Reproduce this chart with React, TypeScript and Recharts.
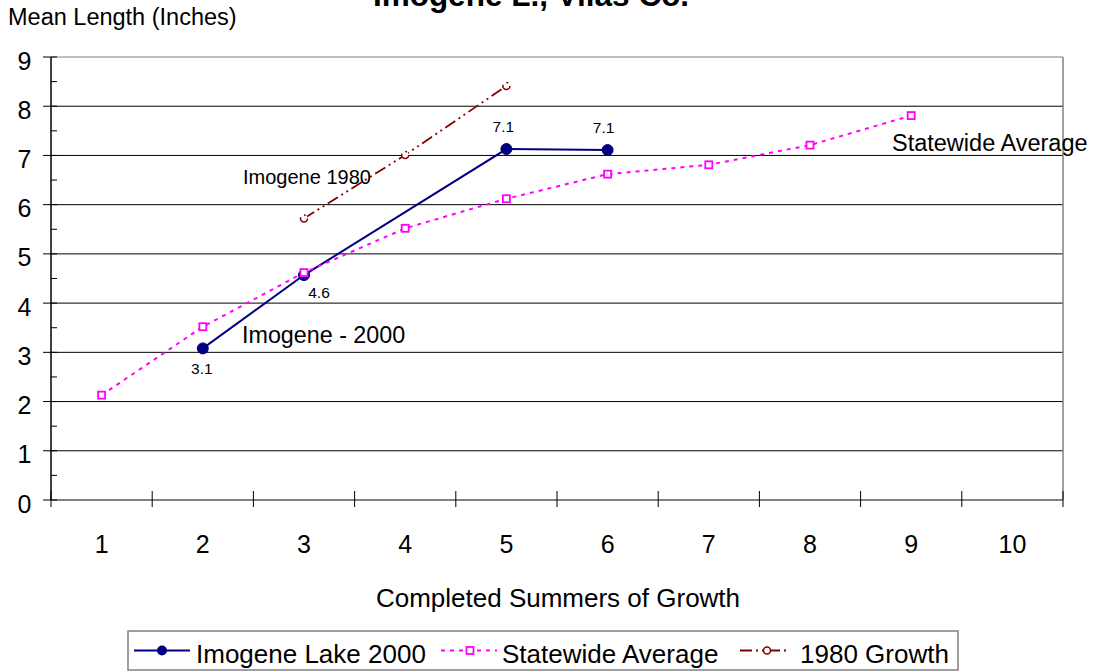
import React from 'react';
import { LineChart, Line, XAxis, YAxis, ReferenceLine, LabelList } from 'recharts';

// ---- data ----
const summers = [1, 2, 3, 4, 5, 6, 7, 8, 9, 10];
const imogene2000: (number | null)[] = [null, 3.08, 4.57, null, 7.13, 7.11, null, null, null, null];
const statewideAverage: (number | null)[] = [2.13, 3.52, 4.62, 5.52, 6.12, 6.62, 6.81, 7.21, 7.81, null];
const growth1980: (number | null)[] = [null, null, 5.72, 7.01, 8.41, null, null, null, null, null];
const yTickLabels = [0, 1, 2, 3, 4, 5, 6, 7, 8, 9];

const data = summers.map((s, i) => ({
  summer: s,
  imogene: imogene2000[i],
  statewide: statewideAverage[i],
  g1980: growth1980[i],
}));

const yMax = yTickLabels[yTickLabels.length - 1];
const xTicks = [summers[0] - 0.5, ...summers.flatMap((s) => [s, s + 0.5])];
const yTicks = yTickLabels.flatMap((v) => (v < yMax ? [v, v + 0.5] : [v]));

const FONT = 'Arial, "Liberation Sans", sans-serif';
const NAVY = '#000080';
const MAGENTA = '#FF00FF';
const MAROON = '#800000';

const XTick = (props: any) => {
  const { x, payload } = props;
  const v = payload.value;
  if (Number.isInteger(v)) {
    return (
      <text x={x} y={553} textAnchor="middle" fontSize={25} fontFamily={FONT} fill="#000">
        {v}
      </text>
    );
  }
  return <line x1={x} x2={x} y1={491} y2={507} stroke="#000" strokeWidth={1} />;
};

const YTick = (props: any) => {
  const { y, payload } = props;
  const v = payload.value;
  if (Number.isInteger(v)) {
    return (
      <g>
        <line x1={43} x2={57} y1={y} y2={y} stroke="#000" strokeWidth={1} />
        <text x={31.5} y={y + 12.5} textAnchor="end" fontSize={25} fontFamily={FONT} fill="#000">
          {v}
        </text>
      </g>
    );
  }
  return <line x1={51} x2={57} y1={y} y2={y} stroke="#000" strokeWidth={1} />;
};

const SquareDot = (props: any) => {
  const { cx, cy, index } = props;
  if (cx == null || cy == null || props.value == null) return <g key={`sq-${index}`} />;
  return (
    <rect key={`sq-${index}`} x={cx - 3.5} y={cy - 3.5} width={7} height={7} fill="#fff" stroke={MAGENTA} strokeWidth={1.8} />
  );
};

const labelShift: Record<number, [number, number]> = {
  1: [-1, 20],
  2: [15, 17.5],
  4: [-3, -22.5],
  5: [-4, -23],
};

const ImogeneLabel = (props: any) => {
  const { x, y, value, index } = props;
  if (value == null || x == null || y == null) return null;
  const [dx, dy] = labelShift[index] || [0, -22];
  return (
    <text x={x + dx} y={y + dy + 5.5} textAnchor="middle" fontSize={15.5} fontFamily={FONT} fill="#000">
      {Number(value).toFixed(1)}
    </text>
  );
};

export default function App() {
  return (
    <div style={{ position: 'absolute', left: 0, top: 0, width: 1094, height: 672, background: '#fff', overflow: 'hidden' }}>
      <LineChart width={1094} height={672} data={data} margin={{ top: 57, right: 31, bottom: 112, left: 6 }}>
        <XAxis
          dataKey="summer"
          type="number"
          domain={[summers[0] - 0.5, summers[summers.length - 1] + 0.5]}
          ticks={xTicks}
          interval={0}
          tick={<XTick />}
          tickLine={false}
          axisLine={{ stroke: '#808080', strokeWidth: 2 }}
          height={60}
        />
        <YAxis
          type="number"
          domain={[0, yMax]}
          ticks={yTicks}
          interval={0}
          tick={<YTick />}
          tickLine={false}
          axisLine={{ stroke: '#000', strokeWidth: 1.5 }}
          width={45}
        />
        {yTickLabels.slice(1).map((v) => (
          <ReferenceLine key={`g${v}`} y={v} stroke={v === yMax ? '#808080' : '#000'} strokeWidth={1} />
        ))}
        <ReferenceLine x={summers[summers.length - 1] + 0.5} stroke="#808080" strokeWidth={1.5} />
        <Line
          type="linear"
          dataKey="imogene"
          stroke={NAVY}
          strokeWidth={2}
          connectNulls
          dot={{ r: 5.5, fill: NAVY, stroke: NAVY, strokeWidth: 1 }}
          isAnimationActive={false}
        >
          <LabelList dataKey="imogene" content={<ImogeneLabel />} />
        </Line>
        <Line
          type="linear"
          dataKey="statewide"
          stroke={MAGENTA}
          strokeWidth={2}
          strokeDasharray="4 5"
          dot={<SquareDot />}
          isAnimationActive={false}
        />
        <Line
          type="linear"
          dataKey="g1980"
          stroke={MAROON}
          strokeWidth={1.8}
          strokeDasharray="12 4 2 4 2 4"
          dot={{ r: 3.5, fill: '#fff', stroke: MAROON, strokeWidth: 1.5 }}
          isAnimationActive={false}
        />
      </LineChart>
      <svg
        width={1094}
        height={672}
        style={{ position: 'absolute', left: 0, top: 0, pointerEvents: 'none' }}
        fontFamily={FONT}
      >
        <text x={531} y={6} textAnchor="middle" fontSize={31.5} fontWeight="bold" fill="#000">
          Imogene L., Vilas Co.
        </text>
        <text x={8} y={25} fontSize={23.5} fill="#000">
          Mean Length (Inches)
        </text>
        <text x={243} y={184} fontSize={20} fill="#000">
          Imogene 1980
        </text>
        <text x={242} y={343} fontSize={23.3} fill="#000">
          Imogene - 2000
        </text>
        <text x={892} y={150.5} fontSize={23.5} fill="#000">
          Statewide Average
        </text>
        <text x={558} y={607} textAnchor="middle" fontSize={26} fill="#000">
          Completed Summers of Growth
        </text>
        {/* legend */}
        <rect x={128} y={631} width={830} height={39} fill="#fff" stroke="#808080" strokeWidth={1.5} />
        <line x1={134} x2={190} y1={650.5} y2={650.5} stroke={NAVY} strokeWidth={2} />
        <circle cx={162} cy={650.5} r={5} fill={NAVY} />
        <text x={196} y={663} fontSize={26} fill="#000">Imogene Lake 2000</text>
        <line x1={441} x2={497} y1={650.5} y2={650.5} stroke={MAGENTA} strokeWidth={2} strokeDasharray="4 5" />
        <rect x={466.5} y={647} width={7} height={7} fill="#fff" stroke={MAGENTA} strokeWidth={1.8} />
        <text x={502} y={663} fontSize={26} fill="#000">Statewide Average</text>
        <line x1={740} x2={790} y1={650.5} y2={650.5} stroke={MAROON} strokeWidth={1.8} strokeDasharray="12 4 2 4 2 4" />
        <circle cx={767} cy={650.5} r={3.5} fill="#fff" stroke={MAROON} strokeWidth={1.5} />
        <text x={800} y={663} fontSize={26} fill="#000">1980 Growth</text>
      </svg>
    </div>
  );
}
